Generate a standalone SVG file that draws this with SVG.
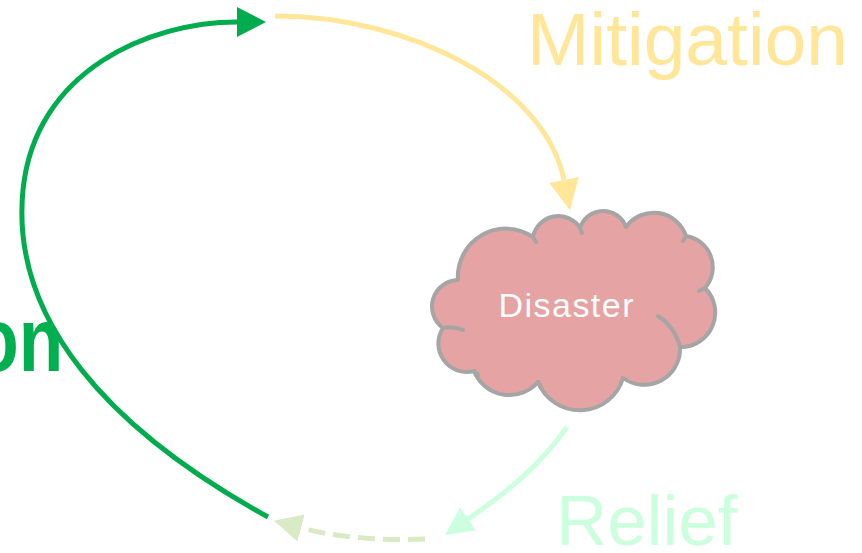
<svg xmlns="http://www.w3.org/2000/svg" width="862" height="553" viewBox="0 0 862 553">
  <style>
    .lbl { font-family: "Liberation Sans", Arial, sans-serif; }
    .conn { fill: none; stroke-width: 5; }
    .cloud { fill: #E5A3A3; stroke: #A5A5A5; stroke-width: 4; stroke-linejoin: round; }
    .notch { fill: none; stroke: #A5A5A5; stroke-width: 4; stroke-linecap: round; }
  </style>
  <defs>
    <marker id="ahGreen" markerUnits="userSpaceOnUse" markerWidth="30" markerHeight="30" refX="0" refY="15" orient="auto">
      <path d="M0,0 L29,15 L0,30 Z" fill="#00AC4E"/>
    </marker>
    <marker id="ahYellow" markerUnits="userSpaceOnUse" markerWidth="32" markerHeight="30" refX="0" refY="15" orient="auto">
      <path d="M0,0 L31,15 L0,30 Z" fill="#FFE699"/>
    </marker>
    <marker id="ahRelief" markerUnits="userSpaceOnUse" markerWidth="30" markerHeight="30" refX="0" refY="14" orient="auto">
      <path d="M0,0 L28,14 L0,28 Z" fill="#CCFFDD"/>
    </marker>
    <marker id="ahDash" markerUnits="userSpaceOnUse" markerWidth="30" markerHeight="30" refX="0" refY="14" orient="auto">
      <path d="M0,0 L28,14 L0,28 Z" fill="#D9EAC4"/>
    </marker>
  </defs>

  <g id="connectors">
    <path id="c-preparation" class="conn" stroke="#00AC4E" d="M268,517 C110,430 10,320 23,190 C35,70 150,22 237,22" marker-end="url(#ahGreen)"/>
    <path id="c-mitigation" class="conn" stroke="#FFE699" d="M275,16 C410,16 545,85 564,180" marker-end="url(#ahYellow)"/>
    <path id="c-relief" class="conn" stroke="#CCFFDD" d="M567,427 C540,465 510,490 468,519" marker-end="url(#ahRelief)"/>
    <path id="c-recovery" class="conn" stroke="#D9EAC4" stroke-dasharray="17 8" d="M425,539 C380,541 335,537 301,528" marker-end="url(#ahDash)"/>
  </g>

  <g id="node-disaster">
    <path class="cloud" d="M458,280 A48,48 0 0 1 533,237 A25.7,25.7 0 0 1 580,228 A24.3,24.3 0 0 1 626,227 A34,34 0 0 1 686,236 A31.6,31.6 0 0 1 705,288 A34.5,34.5 0 0 1 680,347 A36,36 0 0 1 623,378 A45,45 0 0 1 538,382 A38,38 0 0 1 474,371 A28.4,28.4 0 0 1 443,328 A26.5,26.5 0 0 1 458,280 Z"/>
    <path class="notch" d="M443,328 Q452,326 463,330"/>
    <path class="notch" d="M658,316 Q675,327 680,347"/>
    <path class="notch" d="M533,237 L536,242"/>
    <path class="notch" d="M580,228 L582,233"/>
    <path class="notch" d="M686,236 L683,241"/>
    <path class="notch" d="M705,288 L699,291"/>
    <path class="notch" d="M538,382 L541,388"/>
    <path class="notch" d="M474,371 L478,375"/>
    <text class="lbl" x="566" y="317" font-size="34" fill="#FFFFFF" text-anchor="middle" textLength="135" lengthAdjust="spacing">Disaster</text>
  </g>

  <g id="node-mitigation">
    <text class="lbl" x="527" y="65" font-size="75" fill="#FFE699">Mitigation</text>
  </g>

  <g id="node-relief">
    <text class="lbl" x="556" y="545" font-size="71" fill="#CCFFDD">Relief</text>
  </g>

  <g id="node-preparation">
    <text class="lbl" transform="scale(0.8,1)" x="79" y="371" font-size="91" font-weight="bold" fill="#00B050" text-anchor="end">on</text>
  </g>
</svg>
